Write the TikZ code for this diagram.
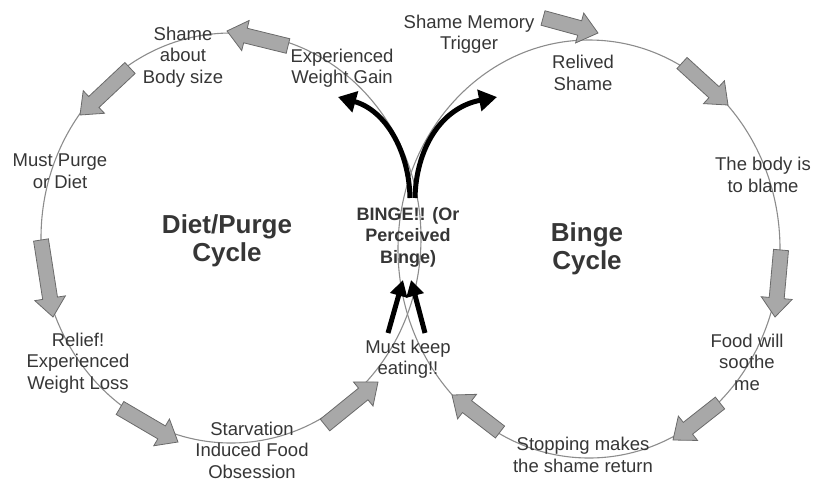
\documentclass[tikz,border=0pt]{standalone}
\usepackage{fontspec}
\setmainfont{Liberation Sans}
\usetikzlibrary{calc,arrows.meta}
\definecolor{txt}{HTML}{363636}
\definecolor{ringgray}{HTML}{8C8C8C}
\definecolor{arrfill}{HTML}{A8A8A8}
\definecolor{arredge}{HTML}{6A6A6A}
\newcommand\grayarrow[3]{%
  \coordinate (#1t) at #2;
  \coordinate (#1h) at #3;
  \coordinate (#1b) at ($(#1h)!19pt!(#1t)$);
  \draw[garrow] ($(#1t)!7.5pt!90:(#1h)$) -- ($(#1b)!7.5pt!90:(#1h)$) -- ($(#1b)!15.5pt!90:(#1h)$)
    -- (#1h) -- ($(#1b)!15.5pt!-90:(#1h)$) -- ($(#1b)!7.5pt!-90:(#1h)$) -- ($(#1t)!7.5pt!-90:(#1h)$) -- cycle;}
\begin{document}
\begin{tikzpicture}[x=1pt,y=-1pt,
  cyc/.style={draw=ringgray, line width=1.1pt},
  lbl/.style={text=txt, align=center, inner sep=0pt, font=\fontsize{18.5}{21.5}\selectfont},
  ttl/.style={text=txt, align=center, inner sep=0pt, font=\fontsize{26}{28}\selectfont\bfseries},
  bng/.style={text=txt, align=center, inner sep=0pt, font=\fontsize{18}{21.5}\selectfont\bfseries},
  garrow/.style={fill=arrfill, draw=arredge, line width=0.8pt, line join=miter},
  blkcurve/.style={line width=5pt, -{Triangle[length=18pt,width=21pt]}},
  blkstraight/.style={line width=5pt, -{Triangle[length=16pt,width=17pt]}}]
\useasboundingbox (0,0) rectangle (813,483);
% cycles
\draw[cyc] (231,238) ellipse [x radius=190pt, y radius=205pt];
\draw[cyc] (589,249) ellipse [x radius=191pt, y radius=209pt];
% gray block arrows, left cycle
\grayarrow{a1}{(288,46)}{(227,31)}
\grayarrow{a2}{(130,68)}{(80,115)}
\grayarrow{a3}{(41,240)}{(53,317)}
\grayarrow{a4}{(120,408)}{(178,442)}
\grayarrow{a5}{(325,425)}{(378,382)}
% gray block arrows, right cycle
\grayarrow{b1}{(543,18)}{(598,33)}
\grayarrow{b2}{(682,63)}{(728,105)}
\grayarrow{b3}{(781,250)}{(775,317)}
\grayarrow{b4}{(720,403)}{(673,440)}
\grayarrow{b5}{(500,432)}{(452,395)}
% labels
\node[lbl] (shamebody) at (183,57) {Shame\\about\\Body size};
\node[lbl] (gain) at (342,68) {Experienced\\Weight Gain};
\node[lbl] (purge) at (60,171) {Must Purge\\or Diet};
\node[ttl] (dpcycle) at (227,241) {Diet/Purge\\Cycle};
\node[bng] (binge) at (408,237) {BINGE!! (Or\\Perceived\\Binge)};
\node[ttl] (bcycle) at (587,249) {Binge\\Cycle};
\node[lbl] (relief) at (78,363) {Relief!\\Experienced\\Weight Loss};
\node[lbl] (starv) at (252,450) {Starvation\\Induced Food\\Obsession};
\node[lbl] (keep) at (408,359) {Must keep\\eating!!};
\node[lbl] (trigger) at (469,34) {Shame Memory\\Trigger};
\node[lbl] (relived) at (583,73) {Relived\\Shame};
\node[lbl] (blame) at (763,175) {The body is\\to blame};
\node[lbl] (soothe) at (747,362) {Food will\\soothe\\me};
\node[lbl] (stopping) at (583,455) {Stopping makes\\the shame return};
% black arrows
\coordinate (lstart) at (410,198);
\coordinate (lend) at (338,97);
\coordinate (rstart) at (415,198);
\coordinate (rend) at (497,97);
\draw[blkcurve] (lstart) .. controls (409,150) and (385,110) .. (lend);
\draw[blkcurve] (rstart) .. controls (416,150) and (440,108) .. (rend);
\coordinate (k1s) at (388,333);
\coordinate (k1e) at (403,280);
\coordinate (k2s) at (425,333);
\coordinate (k2e) at (411,280);
\draw[blkstraight] (k1s) -- (k1e);
\draw[blkstraight] (k2s) -- (k2e);
\end{tikzpicture}
\end{document}
